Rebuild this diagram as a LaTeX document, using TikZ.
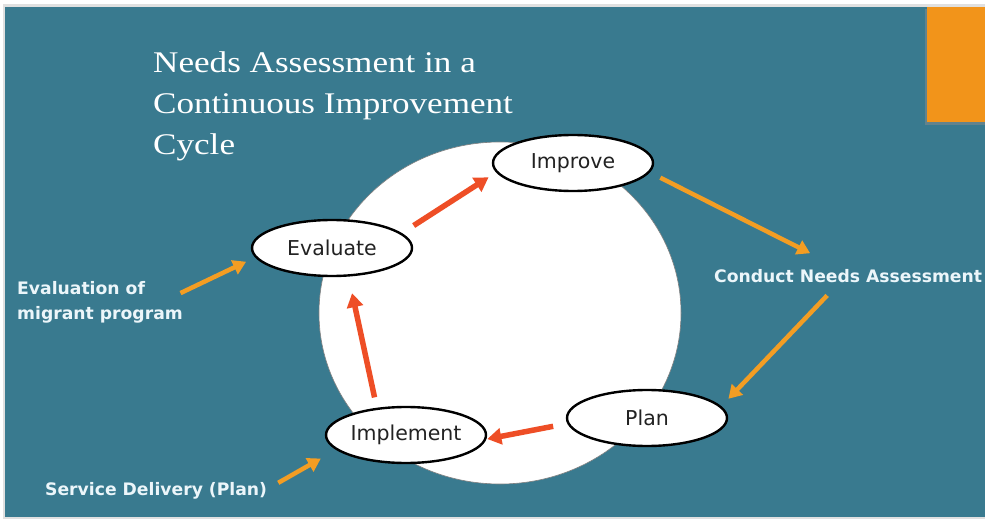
\documentclass[tikz,border=0pt]{standalone}
\usepackage{fontspec}
\usetikzlibrary{arrows.meta,shapes.geometric}
\newfontfamily\titlefont[FakeStretch=1.17]{Liberation Serif}
\newfontfamily\boxfont{DejaVu Sans}
\newfontfamily\labelfont{DejaVu Sans}
\definecolor{bgteal}{RGB}{57,122,143}
\definecolor{boxorange}{RGB}{242,148,26}
\definecolor{arrorange}{RGB}{243,157,35}
\definecolor{arrred}{RGB}{238,78,38}
\definecolor{lbltext}{RGB}{236,246,250}
\definecolor{ovaltext}{RGB}{34,34,34}
\tikzset{
  oval/.style={ellipse, draw=black, line width=2.4pt, fill=white, inner sep=0pt,
    minimum width=160pt, minimum height=56pt,
    font=\boxfont\fontsize{20.5}{24}\selectfont, text=ovaltext},
  sidelabel/.style={inner sep=0pt, align=left, text=lbltext,
    font=\labelfont\bfseries\fontsize{17.2}{25}\selectfont},
  redarrow/.style={draw=arrred, line width=5.5pt,
    -{Triangle[length=14pt,width=16pt]}},
  orangearrow/.style={draw=arrorange, line width=4.5pt,
    -{Triangle[length=13pt,width=15pt]}}
}
\begin{document}
\begin{tikzpicture}[x=1pt,y=-1pt]
\useasboundingbox (0,0) rectangle (985,521);
\clip (0,0) rectangle (985,521);
\fill[white] (0,0) rectangle (985,521);
\fill[black!12] (3,4) rectangle (985,519);
\fill[bgteal] (5,7) rectangle (985,517);
% orange corner box
\fill[black!45,opacity=0.5] (925,9) rectangle (985,125);
\fill[boxorange] (927,7) rectangle (985,122);
% title
\node[anchor=north west, inner sep=0pt, align=left, text=white,
      font=\titlefont\fontsize{30}{41}\selectfont] (title) at (153,51.5)
  {Needs Assessment in a\\Continuous Improvement\\Cycle};
% big white circle
\node[ellipse, fill=white, draw=black!50, line width=0.6pt, inner sep=0pt,
      minimum width=362pt, minimum height=342pt] (cycle) at (500,313) {};
% ovals
\node[oval] (improve) at (573,163) {Improve};
\node[oval] (evaluate) at (332,248) {Evaluate};
\node[oval] (implement) at (406,435) {Implement};
\node[oval] (plan) at (647,418) {Plan};
% side labels
\node[sidelabel, anchor=north west] (evallbl) at (17,281)
  {Evaluation of\\migrant program};
\node[sidelabel, anchor=base west] (conduct) at (714,283)
  {Conduct Needs Assessment};
\node[sidelabel, anchor=base west] (service) at (45,495)
  {Service Delivery (Plan)};
% red cycle arrows
\draw[redarrow, shorten <=14pt, shorten >=9pt] (evaluate.12.9) -- (improve.187.5);
\draw[redarrow, shorten <=14.4pt, shorten >=1pt] (plan.184.7) -- (implement.357.7);
\draw[redarrow, shorten <=10.6pt, shorten >=17pt] (implement.137.2) -- (evaluate.300);
% orange arrows
\draw[orangearrow, shorten >=10pt] ([xshift=-2.5pt,yshift=9pt]evallbl.east) -- (evaluate.187.2);
\draw[orangearrow, shorten <=11.7pt] (improve.353.7) -- ([xshift=-38pt,yshift=16.5pt]conduct.north);
\draw[orangearrow, shorten >=10.3pt] ([xshift=-21pt,yshift=-12pt]conduct.south) -- (plan.9.7);
\draw[orangearrow, shorten >=17.6pt] ([xshift=11pt,yshift=7.5pt]service.east) -- (implement.192.2);
\end{tikzpicture}
\end{document}
